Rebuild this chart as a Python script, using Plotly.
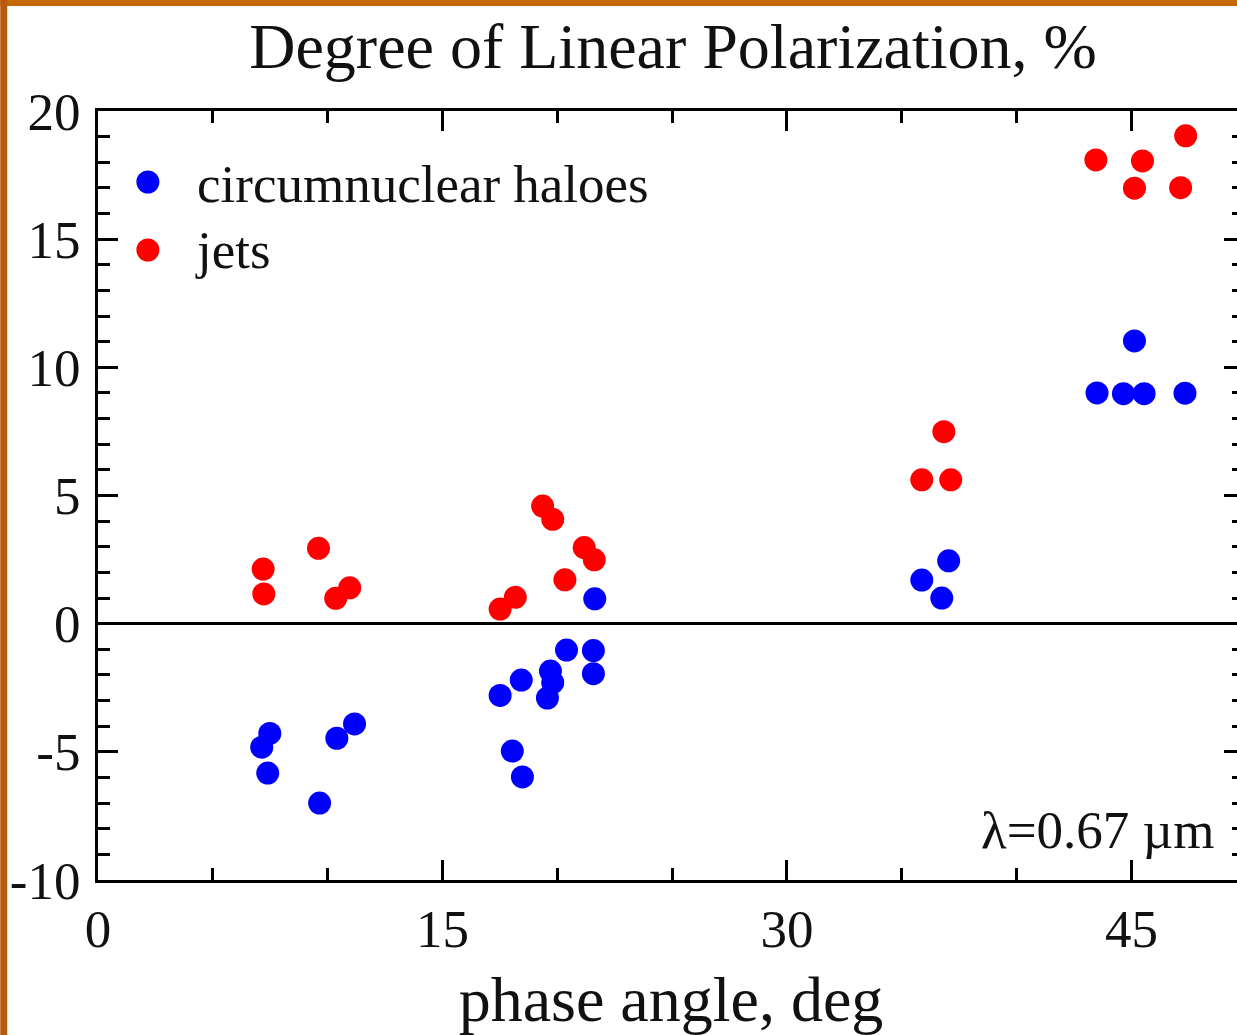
import plotly.graph_objects as go

# ---- data ----
halo_phase = [7.13, 7.48, 7.39, 9.65, 10.40, 11.17, 17.51, 18.43, 18.04, 18.48,
              19.57, 19.80, 19.70, 20.40, 21.57, 21.57, 21.63,
              35.87, 37.04, 36.74, 43.50, 44.65, 45.55, 45.13, 47.33]
halo_pol = [-4.82, -4.28, -5.83, -7.00, -4.47, -3.91, -2.80, -2.20, -4.97, -5.98,
            -2.90, -2.30, -1.85, -1.03, -1.05, -1.95, 0.97,
            1.70, 2.45, 1.00, 9.00, 8.97, 8.97, 11.03, 8.99]

jet_phase = [7.19, 7.22, 9.60, 10.35, 10.96, 17.51, 18.17, 19.36, 19.80, 21.17,
             21.61, 20.33, 35.87, 37.13, 36.83, 43.45, 45.48, 45.13, 47.36, 47.14]
jet_pol = [2.13, 1.16, 2.94, 0.99, 1.40, 0.57, 1.03, 4.59, 4.07, 2.97,
           2.49, 1.71, 5.61, 5.61, 7.49, 18.09, 18.05, 16.99, 19.03, 17.01]

x_range = [0, 49.9]
x_tickvals = [0, 15, 30, 45]
x_ticktext = ["0", "15", "30", "45"]
y_range = [-10, 20]
y_tickvals = [-10, -5, 0, 5, 10, 15, 20]
y_ticktext = ["-10", "-5", "0", "5", "10", "15", "20"]

series_names = ["circumnuclear haloes", "jets"]
series_colors = ["#0000FF", "#FF0000"]
title_text = "Degree of Linear Polarization, %"
x_title = "phase angle, deg"
note_text = "\u03bb=0.67 \u00b5m"

FONT = "Liberation Serif, Times New Roman, serif"
W, H = 1247, 1035          # right plot frame sits just beyond the 1237 px window
L, T, B, R = 98, 111, 155, 0
PW, PH = W - L - R, H - T - B

MS = 23  # marker diameter, px

fig = go.Figure()
fig.add_trace(go.Scatter(x=halo_phase, y=halo_pol, mode="markers", name=series_names[0],
                         marker=dict(color=series_colors[0], size=MS, line=dict(width=0)),
                         legend="legend"))
fig.add_trace(go.Scatter(x=jet_phase, y=jet_pol, mode="markers", name=series_names[1],
                         marker=dict(color=series_colors[1], size=MS, line=dict(width=0)),
                         legend="legend2"))

axis_common = dict(showgrid=False, showline=True, linecolor="black", linewidth=3,
                   mirror="allticks", ticks="inside", tickcolor="black", tickwidth=3,
                   ticklen=20, tickfont=dict(family=FONT, size=53, color="#111"))

fig.update_xaxes(range=x_range, tickvals=x_tickvals, ticktext=x_ticktext,
                 minor=dict(dtick=5, tick0=0, ticks="inside", ticklen=12, tickwidth=3,
                            tickcolor="black"),
                 zeroline=False,
                 title=dict(text=x_title, font=dict(family=FONT, size=64, color="#111"),
                            standoff=20),
                 **axis_common)
fig.update_yaxes(range=y_range, tickvals=y_tickvals, ticktext=y_ticktext,
                 minor=dict(dtick=1, tick0=0, ticks="inside", ticklen=12, tickwidth=3,
                            tickcolor="black"),
                 zeroline=True, zerolinecolor="black", zerolinewidth=3,
                 ticklabelstandoff=4,
                 **axis_common)

# orange slide border (top and left)
fig.add_shape(type="rect", xref="paper", yref="paper", x0=-L / PW, x1=1.0,
              y0=1 + (T - 6) / PH, y1=1 + T / PH,
              fillcolor="#C46808", line=dict(width=0), layer="below")
fig.add_shape(type="rect", xref="paper", yref="paper", x0=-L / PW, x1=-(L - 7) / PW,
              y0=-B / PH, y1=1 + T / PH,
              fillcolor="#B85A0C", line=dict(width=0), layer="below")

# full-size legend symbols (plotly caps legend markers at 16 px)
legend_px_y = [181, 247]
legend_sym_y = [182, 250]
legend_px_x = 148
for col, py in zip(series_colors, legend_sym_y):
    fig.add_shape(type="circle", xref="paper", yref="paper",
                  xsizemode="pixel", ysizemode="pixel",
                  xanchor=(legend_px_x - L) / PW, yanchor=1 - (py - T) / PH,
                  x0=-MS / 2, x1=MS / 2, y0=-MS / 2, y1=MS / 2,
                  fillcolor=col, line=dict(width=0), layer="above")

fig.add_annotation(text=note_text, xref="paper", yref="y", x=(1219 - L) / PW, y=-8.05,
                   xanchor="right", yanchor="middle", showarrow=False,
                   font=dict(family=FONT, size=53, color="#111"))

leg_common = dict(xanchor="left", yanchor="top", bgcolor="rgba(0,0,0,0)",
                  font=dict(family=FONT, size=53, color="#111"), itemwidth=88,
                  x=(legend_px_x - 49 - L) / PW)

fig.update_layout(
    width=W, height=H,
    margin=dict(l=L, r=R, t=T, b=B, pad=0),
    paper_bgcolor="white", plot_bgcolor="white",
    title=dict(text=title_text, x=673 / W, xanchor="center", xref="container",
               y=1 - 46 / H, yanchor="middle", yref="container",
               font=dict(family=FONT, size=64, color="#111")),
    legend=dict(y=1 - (legend_px_y[0] - 41 - T) / PH, **leg_common),
    legend2=dict(y=1 - (legend_px_y[1] - 41 - T) / PH, **leg_common),
    showlegend=True,
    font=dict(family=FONT, color="#111"),
)

fig.write_html("out.html",
               post_script="document.documentElement.style.overflow='hidden';"
                           "document.body.style.overflow='hidden';")
